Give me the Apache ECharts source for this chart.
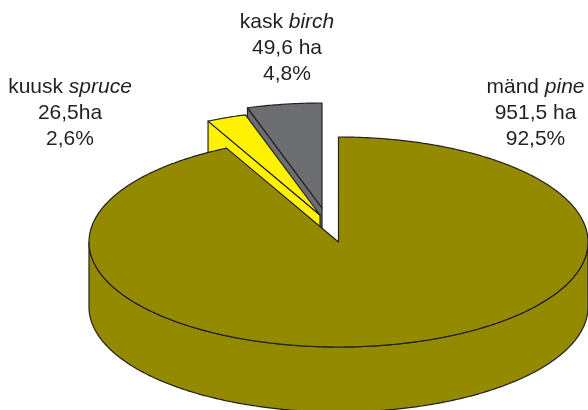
<!DOCTYPE html>
<html>
<head>
<meta charset="utf-8">
<style>html,body{margin:0;padding:0;background:#fff}#chart{width:588px;height:410px}</style>
<script src="https://cdn.jsdelivr.net/npm/echarts@6/dist/echarts.min.js"></script>
</head>
<body>
<div id="chart"></div>
<script>
// Data
const namesLocal = ['mänd', 'kuusk', 'kask'];
const namesLatin = ['pine', 'spruce', 'birch'];
const areaHa = [951.5, 26.5, 49.6];
const areaLabels = ['951,5 ha', '26,5ha', '49,6 ha'];
const shareLabels = ['92,5%', '2,6%', '4,8%'];

// Presentation
const colors = ['#948a00', '#fff200', '#6d6e71'];
const stroke = '#231f20';
const CX = 338.5, CY = 242, RX = 249.5, RY = 105, DEPTH = 65;
const explode = [[0, 0], [-18.5, -27], [-16.5, -34]];
const labelPos = [[535.5, 113], [70, 113], [287, 48]];
const paintOrder = [2, 1, 0]; // back slices first
const total = areaHa.reduce((a, b) => a + b, 0);
const startDeg = areaHa.map((_, i) => areaHa.slice(0, i).reduce((a, b) => a + b, 0) / total * 360);

function pt(deg, ox, oy, dz) {
  const t = deg * Math.PI / 180;
  return [CX + ox + RX * Math.sin(t), CY + oy - RY * Math.cos(t) + (dz || 0)];
}
function arc(from, to, ox, oy, dz) {
  const out = [];
  const n = Math.max(2, Math.ceil(Math.abs(to - from) * 2));
  for (let i = 0; i <= n; i++) out.push(pt(from + (to - from) * i / n, ox, oy, dz));
  return out;
}
const line = { stroke: stroke, lineWidth: 1.2, lineJoin: 'round' };

function renderItem(params, api) {
  const i = api.value(0);
  const from = startDeg[i];
  const to = from + api.value(1) / total * 360;
  const [ox, oy] = explode[i];
  const z = params.dataIndex * 10;
  const fill = colors[i];
  const apex = [CX + ox, CY + oy];
  const children = [];
  const poly = (points, z2) => children.push({
    type: 'polygon', z2: z + z2, shape: { points: points },
    style: Object.assign({ fill: fill }, line)
  });
  if (i === 0) {
    // outer wall on the visible front of the rim
    const a = arc(90, 270, ox, oy, 0);
    const b = arc(270, 90, ox, oy, DEPTH);
    poly(a.concat(b), 1);
  } else {
    // cut face of the displaced slice: leading radial edge extruded downward
    const rim = pt(from, ox, oy, 0);
    const rimLow = pt(from, ox, oy, DEPTH);
    poly([rim, apex, [apex[0], apex[1] + DEPTH], rimLow], 1);
  }
  poly([apex].concat(arc(from, to, ox, oy, 0)), 2);
  return { type: 'group', children: children };
}

function labelText(i) {
  return '{t|' + namesLocal[i] + ' }{it|' + namesLatin[i] + '}\n{t|' + areaLabels[i] + '}\n{t|' + shareLabels[i] + '}';
}

const chart = echarts.init(document.getElementById('chart'), null, { renderer: 'canvas' });
chart.setOption({
  animation: false,
  backgroundColor: '#fff',
  series: [{
    type: 'custom',
    coordinateSystem: 'none',
    silent: true,
    clip: false,
    renderItem: renderItem,
    data: paintOrder.map(i => [i, areaHa[i]])
  }],
  graphic: areaHa.map((_, i) => ({
    type: 'text',
    x: labelPos[i][0],
    y: labelPos[i][1],
    z: 100,
    style: {
      text: labelText(i),
      align: 'center',
      verticalAlign: 'middle',
      fill: '#231f20',
      rich: {
        t: { fontFamily: 'Liberation Sans', fontSize: 21, lineHeight: 26, fill: '#231f20' },
        it: { fontFamily: 'Liberation Sans', fontStyle: 'italic', fontSize: 21, lineHeight: 26, fill: '#231f20' }
      }
    }
  }))
});
</script>
</body>
</html>
